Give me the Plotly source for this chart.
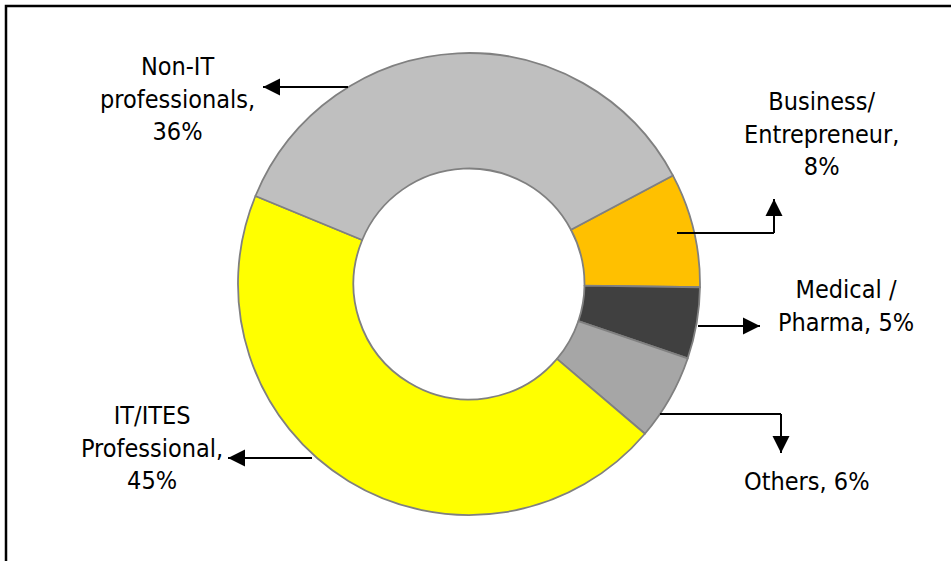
import plotly.graph_objects as go

# ---- data ----
categories = ["Business/<br>Entrepreneur", "Medical /<br>Pharma", "Others",
              "IT/ITES<br>Professional", "Non-IT<br>professionals"]
values = [8, 5, 6, 45, 36]
colors = ["#FFC000", "#404040", "#A6A6A6", "#FFFF00", "#BFBFBF"]
label_texts = ["Business/<br>Entrepreneur,<br>8%", "Medical /<br>Pharma, 5%", "Others, 6%",
               "IT/ITES<br>Professional,<br>45%", "Non-IT<br>professionals,<br>36%"]

W, H = 951, 561
FONT = "DejaVu Sans Condensed, DejaVu Sans, Verdana, sans-serif"


def fx(p):
    return p / W


def fy(p):
    return 1 - p / H


# donut geometry (pixels)
cx, cy, R = 469, 284, 231

fig = go.Figure(go.Pie(
    labels=categories,
    values=values,
    sort=False,
    direction="clockwise",
    rotation=62,
    hole=0.5,
    marker=dict(colors=colors, line=dict(color="#808080", width=1.8)),
    textinfo="none",
    hoverinfo="label+percent",
    domain=dict(x=[fx(cx - R), fx(cx + R)], y=[fy(cy + R), fy(cy - R)]),
    showlegend=False,
))

# label positions (pixel centres)
label_pos = [(821, 134), (846, 306), (807, 481), (152, 448), (177, 99)]
annotations = []
for txt, (x, y) in zip(label_texts, label_pos):
    annotations.append(dict(x=fx(x), y=fy(y), xref="paper", yref="paper", text=txt,
                            showarrow=False, xanchor="center", yanchor="middle", align="center",
                            font=dict(family=FONT, size=25, color="#000000")))

# leader lines: list of polylines, last segment ends with arrow head
leaders = [
    [(677, 233), (774, 233), (774, 199)],   # Business
    [(698, 326), (760, 326)],               # Medical
    [(660, 414), (781, 414), (781, 453)],   # Others
    [(312, 458), (228, 458)],               # IT/ITES
    [(348, 87), (263, 87)],                 # Non-IT
]
shapes = []
for pts in leaders:
    for (x0, y0), (x1, y1) in zip(pts[:-1], pts[1:]):
        shapes.append(dict(type="line", xref="paper", yref="paper",
                           x0=fx(x0), y0=fy(y0), x1=fx(x1), y1=fy(y1),
                           line=dict(color="#000000", width=2)))
    (tx, ty), (hx, hy) = pts[-2], pts[-1]
    annotations.append(dict(x=fx(hx), y=fy(hy), xref="paper", yref="paper",
                            ax=tx - hx, ay=ty - hy, axref="pixel", ayref="pixel",
                            text="", showarrow=True, arrowhead=2, arrowsize=1.7,
                            arrowwidth=2, arrowcolor="#000000", standoff=0))

# outer frame
shapes.append(dict(type="rect", xref="paper", yref="paper",
                   x0=fx(6), y0=-0.1, x1=1.1, y1=fy(6),
                   line=dict(color="#000000", width=2.5), fillcolor="rgba(0,0,0,0)"))

fig.update_layout(
    width=W, height=H,
    margin=dict(l=0, r=0, t=0, b=0),
    paper_bgcolor="white", plot_bgcolor="white",
    annotations=annotations,
    shapes=shapes,
    font=dict(family=FONT),
)

fig.write_html("out.html")
